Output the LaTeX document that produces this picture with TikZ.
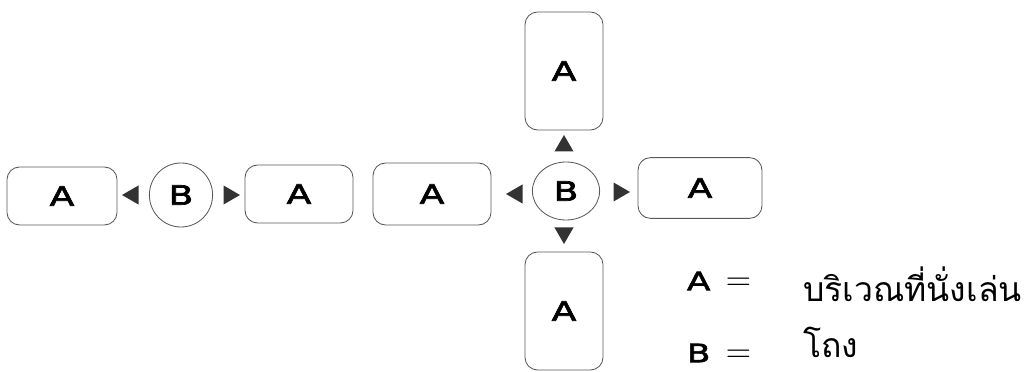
\documentclass[tikz,border=0pt]{standalone}
\usepackage{fontspec}
\usetikzlibrary{shapes.geometric}
\newfontfamily\thaifont[Script=Thai]{Loma}
\newfontfamily\keyfont[FakeStretch=1.35,FakeBold=2.5]{DejaVu Sans}

\begin{document}
\begin{tikzpicture}[x=0.025cm, y=-0.025cm,
  area/.style={draw=black!65, line width=0.6pt, rounded corners=9pt,
    font=\keyfont\fontsize{19}{19}\selectfont},
  hall/.style={draw=black!65, line width=0.6pt, ellipse, inner sep=0pt,
    font=\keyfont\fontsize{19}{19}\selectfont},
  tip/.style={regular polygon, regular polygon sides=3, fill=black!80,
    inner sep=0pt, minimum size=0.55cm},
  thai/.style={anchor=west, inner sep=0pt, font=\thaifont\fontsize{24}{24}\selectfont}]

\useasboundingbox (0,0) rectangle (1032,372);

% left group
\node[area, minimum width=2.75cm, minimum height=1.45cm] (a1) at (62,196) {A};
\node[hall, minimum width=1.58cm, minimum height=1.6cm] (b1) at (181,195) {B};
\node[area, minimum width=2.7cm, minimum height=1.45cm] (a2) at (299,194) {A};
\node[tip, rotate=90] (t1) at (133,195) {};
\node[tip, rotate=-90] (t2) at (229,195) {};

% cross group
\node[hall, minimum width=1.68cm, minimum height=1.45cm] (b2) at (566,191) {B};
\node[area, minimum width=2.95cm, minimum height=1.55cm] (a3) at (432,194) {A};
\node[area, minimum width=3.1cm, minimum height=1.52cm] (a4) at (700,188) {A};
\node[area, minimum width=1.95cm, minimum height=2.95cm] (a5) at (564,71) {A};
\node[area, minimum width=1.95cm, minimum height=2.95cm] (a6) at (564,311) {A};
\node[tip] (t3) at (564,146) {};
\node[tip, rotate=180] (t4) at (564,233) {};
\node[tip, rotate=90] (t5) at (517,194) {};
\node[tip, rotate=-90] (t6) at (619,192) {};

% legend
\node[anchor=west, font=\keyfont\fontsize{18}{18}\selectfont] (ka) at (682,281)
  {A\hspace{11pt}\fontsize{25}{25}\selectfont$=$};
\node[anchor=west, font=\keyfont\fontsize{18}{18}\selectfont] (kb) at (682,353)
  {B\hspace{11pt}\fontsize{25}{25}\selectfont$=$};
\node[thai] (ta) at (803,284) {บริเวณที่นั่งเล่น};
\node[thai] (tb) at (803,342) {โถง};

\end{tikzpicture}
\end{document}
